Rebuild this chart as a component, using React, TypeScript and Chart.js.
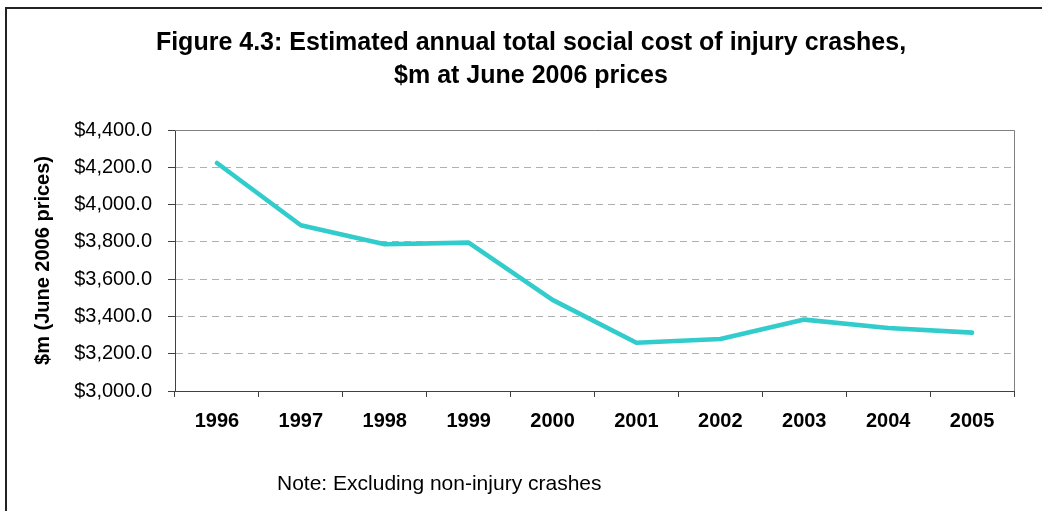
import React, { useEffect, useRef } from "react";
import { Chart, registerables } from "chart.js";

Chart.register(...registerables);

const years = ["1996", "1997", "1998", "1999", "2000", "2001", "2002", "2003", "2004", "2005"];
const socialCost = [4223, 3889, 3787, 3796, 3489, 3259, 3279, 3383, 3338, 3313];
const yMin = 3000;
const yMax = 4400;
const yStep = 200;
const titleLines = [
  "Figure 4.3: Estimated annual total social cost of injury crashes,",
  "$m at June 2006 prices",
];
const yAxisTitle = "$m (June 2006 prices)";
const noteText = "Note: Excluding non-injury crashes";

const FONT = "'Liberation Sans', Arial, Helvetica, sans-serif";

const plotFrame = {
  id: "plotFrame",
  beforeDatasetsDraw(chart: any) {
    const { ctx, chartArea } = chart;
    ctx.save();
    ctx.setLineDash([]);
    ctx.strokeStyle = "#808080";
    ctx.lineWidth = 1;
    ctx.beginPath();
    ctx.moveTo(chartArea.left, chartArea.top + 0.5);
    ctx.lineTo(chartArea.right + 0.5, chartArea.top + 0.5);
    ctx.lineTo(chartArea.right + 0.5, chartArea.bottom);
    ctx.stroke();
    ctx.restore();
  },
};

export default function App() {
  const ref = useRef<HTMLCanvasElement | null>(null);

  useEffect(() => {
    if (!ref.current) return;
    const chart = new Chart(ref.current, {
      type: "line",
      data: {
        labels: years,
        datasets: [
          {
            data: socialCost,
            borderColor: "#33CCCC",
            backgroundColor: "#33CCCC",
            borderWidth: 4.6,
            borderJoinStyle: "round",
            borderCapStyle: "round",
            pointRadius: 0,
            tension: 0,
            fill: false,
          },
        ],
      },
      options: {
        animation: false,
        responsive: false,
        devicePixelRatio: 1,
        layout: { padding: { left: 48, right: 28, top: 0, bottom: 0 } },
        plugins: {
          legend: { display: false },
          tooltip: { enabled: false },
          title: {
            display: true,
            text: titleLines,
            color: "#000",
            font: { family: FONT, size: 25, weight: "bold", lineHeight: 1.33 },
            padding: { top: 26.3, bottom: 37.2 },
          },
        },
        scales: {
          x: {
            type: "category",
            offset: true,
            grid: {
              offset: true,
              drawOnChartArea: false,
              drawTicks: true,
              tickLength: 6,
              tickColor: "#404040",
            },
            border: { display: true, color: "#404040", width: 1 },
            ticks: {
              color: "#000",
              font: { family: FONT, size: 20, weight: "bold" },
              padding: 12,
              maxRotation: 0,
              autoSkip: false,
            },
            afterFit(scale: any) {
              scale.height = 120;
            },
          },
          y: {
            min: yMin,
            max: yMax,
            grid: {
              color: "#b0b0b0",
              tickColor: "#404040",
              tickBorderDash: [],
              tickLength: 7,
            },
            border: { display: true, color: "#404040", width: 1, dash: [7, 5] },
            ticks: {
              stepSize: yStep,
              color: "#000",
              font: { family: FONT, size: 20 },
              padding: 16,
              callback: (v: any) =>
                "$" +
                Number(v).toLocaleString("en-US", {
                  minimumFractionDigits: 1,
                  maximumFractionDigits: 1,
                }),
            },
            title: {
              display: true,
              text: yAxisTitle,
              color: "#000",
              font: { family: FONT, size: 20, weight: "bold", lineHeight: 1.2 },
              padding: { top: -17, bottom: 0 },
            },
            afterFit(scale: any) {
              scale.width = 127;
            },
          },
        },
      },
      plugins: [plotFrame],
    } as any);
    return () => chart.destroy();
  }, []);

  return (
    <div
      style={{
        position: "fixed",
        left: 0,
        top: 0,
        width: 1042,
        height: 511,
        background: "#fff",
        overflow: "hidden",
      }}
    >
      <div
        style={{
          position: "absolute",
          left: 5,
          top: 7,
          width: 1100,
          height: 600,
          borderLeft: "2px solid #222",
          borderTop: "2px solid #222",
        }}
      />
      <canvas
        ref={ref}
        width={1042}
        height={511}
        style={{ position: "absolute", left: 0, top: 0, width: 1042, height: 511 }}
      />
      <div
        style={{
          position: "absolute",
          left: 277,
          top: 471,
          fontFamily: FONT,
          fontSize: 21,
          color: "#000",
          whiteSpace: "nowrap",
          lineHeight: "24px",
        }}
      >
        {noteText}
      </div>
    </div>
  );
}
